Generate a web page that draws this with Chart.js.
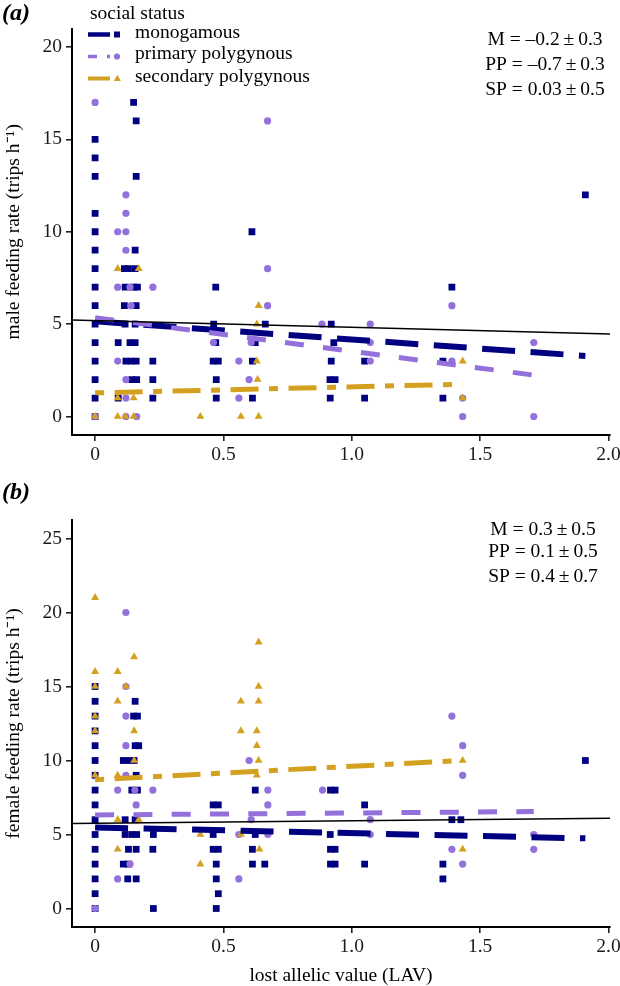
<!DOCTYPE html>
<html><head><meta charset="utf-8">
<script src="https://cdn.jsdelivr.net/npm/chart.js@4.4.1/dist/chart.umd.min.js"></script>
<style>
html,body{margin:0;padding:0;background:#fff;}
#wrap{position:relative;width:620px;height:986px;overflow:hidden;}
#ca{position:absolute;left:0;top:0;}
#cb{position:absolute;left:0;top:470px;}
</style></head><body>
<div id="wrap">
<canvas id="ca" width="620" height="470"></canvas>
<canvas id="cb" width="620" height="516"></canvas>
</div>
<script>
const FONT = '"Liberation Serif", "Times New Roman", serif';
const NAVY = '#000080', PURPLE = '#9370DB', GOLD = '#D4A020';

// axes
const xTicks = [0, 0.5, 1.0, 1.5, 2.0];
const xTickLabels = ['0', '0.5', '1.0', '1.5', '2.0'];
const yTicksMale = [0, 5, 10, 15, 20];
const yTicksFemale = [0, 5, 10, 15, 20, 25];
const groupNames = ['monogamous', 'primary polygynous', 'secondary polygynous'];

// (a) male feeding rate: [LAV, trips/h]
const maleMono = [[0,0],[0,1],[0,2],[0,3],[0,4],[0,5],[0,6],[0,7],[0,8],[0,9],[0,10],[0,11],[0,13],[0,14],[0,15],
  [0.09,4],[0.09,1],[0.114,8],[0.114,6],[0.117,7],[0.117,5],[0.12,3],[0.13,8],[0.136,4],[0.14,3],[0.143,2],[0.15,7],[0.15,17],
  [0.156,9],[0.156,8],[0.156,5],[0.156,4],[0.16,3],[0.16,6],[0.16,13],[0.16,16],[0.162,2],[0.165,7],
  [0.225,3],[0.225,2],[0.225,1],[0.462,5],[0.47,7],[0.47,4],[0.46,3],[0.48,3],[0.472,2],[0.472,1],
  [0.611,10],[0.613,3],[0.613,1],[0.624,4],[0.663,5],[0.92,5],[0.92,3],[0.93,4],[0.915,2],[0.935,2],[0.916,1],
  [1.05,3],[1.05,1],[1.355,3],[1.355,1],[1.39,7],[1.91,12]];
const malePP = [[0,17],[0,0],[0.088,10],[0.088,7],[0.088,3],[0.12,12],[0.12,11],[0.12,10],[0.12,9],[0.12,2],[0.12,1],[0.12,0],
  [0.136,7],[0.14,6],[0.162,0],[0.225,7],[0.461,4],[0.56,3],[0.56,1],[0.6,2],[0.608,4],[0.672,16],[0.672,8],[0.672,6],
  [0.884,5],[1.072,5],[1.072,4],[1.072,3],[1.39,6],[1.39,3],[1.432,1],[1.432,0],[1.709,4],[1.709,0]];
const maleSP = [[0,0],[0.088,8],[0.088,1],[0.088,0],[0.117,0],[0.15,1],[0.15,0],[0.17,8],[0.41,0],[0.568,0],
  [0.637,6],[0.637,0],[0.63,5],[0.63,3],[0.633,2],[1.432,3],[1.432,1]];
// fitted lines (end points)
const maleFitAll = [[-0.09,5.22],[2.006,4.47]];
const maleFitMono = [[0,5.15],[1.91,3.28]];
const maleFitPP = [[0,5.35],[1.709,2.24]];
const maleFitSP = [[0,1.28],[1.432,1.75]];
const maleStats = ['M = \u20130.2\u2009\u00b1\u20090.3', 'PP = \u20130.7\u2009\u00b1\u20090.3', 'SP = 0.03\u2009\u00b1\u20090.5'];

// (b) female feeding rate
const femaleMono = [[0,0],[0,1],[0,2],[0,3],[0,4],[0,5],[0,6],[0,7],[0,8],[0,9],[0,10],[0,11],[0,12],[0,13],[0,14],[0,15],
  [0.156,14],[0.15,13],[0.165,13],[0.156,11],[0.17,11],[0.11,10],[0.13,10],[0.152,10],[0.16,9],[0.143,8],[0.165,8],
  [0.117,6],[0.156,6],[0.117,5],[0.143,5],[0.162,5],[0.227,5],[0.13,4],[0.16,4],[0.225,4],[0.11,3],[0.13,3],[0.127,2],[0.16,2],[0.227,0],
  [0.624,8],[0.917,8],[0.935,8],[0.46,7],[0.48,7],[1.05,7],[1.39,6],[1.425,6],[0.46,5],[0.624,5],[0.916,5],
  [0.46,4],[0.48,4],[0.613,4],[0.917,4],[0.935,4],[0.472,3],[0.613,3],[0.661,3],[0.917,3],[0.935,3],[1.05,3],[1.355,3],
  [0.472,2],[1.355,2],[0.48,1],[0.472,0],[1.91,10]];
const femalePP = [[0,0],[0.12,20],[0.12,15],[0.12,13],[0.12,11],[0.12,9],[0.088,8],[0.155,8],[0.16,7],[0.088,2],[0.136,3],[0.225,8],
  [0.56,5],[0.56,2],[0.6,10],[0.608,6],[0.673,8],[0.673,7],[0.673,5],[0.886,8],[1.072,6],[1.072,5],[1.39,13],[1.39,4],
  [1.432,11],[1.432,9],[1.432,3],[1.709,5],[1.709,4]];
const femaleSP = [[0,21],[0,16],[0,15],[0,13],[0,12],[0,9],[0.088,16],[0.088,14],[0.088,9],[0.088,6],[0.088,4],[0.12,15],
  [0.152,17],[0.152,12],[0.152,10],[0.17,6],[0.41,5],[0.41,3],[0.568,14],[0.568,12],[0.568,5],[0.637,18],[0.637,15],[0.637,14],
  [0.637,10],[0.63,12],[0.63,11],[0.63,9],[0.64,4],[1.432,10],[1.432,4]];
const femaleFitAll = [[-0.09,5.75],[2.006,6.09]];
const femaleFitMono = [[0,5.48],[1.91,4.74]];
const femaleFitPP = [[0,6.32],[1.709,6.55]];
const femaleFitSP = [[0,8.7],[1.432,10.0]];
const femaleStats = ['M = 0.3\u2009\u00b1\u20090.5', 'PP = 0.1\u2009\u00b1\u20090.5', 'SP = 0.4\u2009\u00b1\u20090.7'];

const X_MIN = -0.09, X_MAX = 2.006;

const toXY = a => a.map(p => ({x: p[0], y: p[1]}));
function pts(label, arr, style, color, r, order) {
  return {type: 'scatter', label, data: toXY(arr), pointStyle: style, pointRadius: r, pointHoverRadius: r,
    backgroundColor: color, borderColor: color, pointBorderWidth: 0, showLine: false, order};
}
function fit(label, arr, color, w, dash, order) {
  return {type: 'line', label, data: toXY(arr), borderColor: color, borderWidth: w, borderDash: dash,
    borderCapStyle: 'butt', pointRadius: 0, pointHoverRadius: 0, fill: false, tension: 0, order};
}

function makeScales(yMin, yMax, yTicks, yTitle, showXTitle, xHeight) {
  return {
    x: {
      type: 'linear', position: 'bottom', min: X_MIN, max: X_MAX,
      afterBuildTicks: s => { s.ticks = xTicks.map(v => ({value: v})); },
      afterFit: s => { s.height = xHeight; s.paddingRight = 0; s.paddingLeft = 0; },
      ticks: {callback: (v, i) => xTickLabels[i], font: {family: FONT, size: 19.5}, color: '#1a1a1a', padding: 2, maxRotation: 0, autoSkip: false},
      grid: {drawOnChartArea: false, drawTicks: true, tickLength: 6, color: '#222', lineWidth: 1.6},
      border: {display: true, color: '#000', width: 2},
      title: {display: showXTitle, text: 'lost allelic value (LAV)', font: {family: FONT, size: 19.5, lineHeight: 1}, color: '#000', padding: 0}
    },
    y: {
      type: 'linear', position: 'left', min: yMin, max: yMax,
      afterBuildTicks: s => { s.ticks = yTicks.map(v => ({value: v})); },
      afterFit: s => { s.width = 70; },
      ticks: {callback: v => String(v), font: {family: FONT, size: 19.5}, color: '#1a1a1a', padding: 4, autoSkip: false},
      grid: {drawOnChartArea: false, drawTicks: true, tickLength: 6, color: '#222', lineWidth: 1.6},
      border: {display: true, color: '#000', width: 2},
      title: {display: true, text: yTitle, font: {family: FONT, size: 19.5, lineHeight: 1}, color: '#000', padding: {top: 2, bottom: 0}}
    }
  };
}

function textPlugin(stats, statX, statY, withLegend) {
  return {
    id: 'panelText',
    afterDraw(chart) {
      const ctx = chart.ctx;
      ctx.save();
      ctx.fillStyle = '#000';
      ctx.font = '19.5px ' + FONT;
      ctx.textAlign = 'center';
      ctx.textBaseline = 'middle';
      stats.forEach((t, i) => ctx.fillText(t, statX, statY[i]));
      if (withLegend) {
        ctx.textAlign = 'left';
        ctx.textBaseline = 'alphabetic';
        ctx.fillText('social status', 90, 18.5);
        const base = [37.5, 59.2, 81.5];
        groupNames.forEach((n, i) => ctx.fillText(n, 135, base[i]));
        const kc = [34.5, 56.5, 78.5];
        ctx.lineCap = 'butt';
        ctx.strokeStyle = NAVY; ctx.lineWidth = 4.5; ctx.setLineDash([]);
        ctx.beginPath(); ctx.moveTo(88, kc[0]); ctx.lineTo(110, kc[0]); ctx.stroke();
        ctx.strokeStyle = PURPLE; ctx.lineWidth = 3.5; ctx.setLineDash([9, 10]);
        ctx.beginPath(); ctx.moveTo(88, kc[1]); ctx.lineTo(110, kc[1]); ctx.stroke();
        ctx.strokeStyle = GOLD; ctx.lineWidth = 4; ctx.setLineDash([]);
        ctx.beginPath(); ctx.moveTo(88, kc[2]); ctx.lineTo(110, kc[2]); ctx.stroke();
        ctx.fillStyle = NAVY; ctx.beginPath(); ctx.rect(114, kc[0] - 3, 6, 6); ctx.fill();
        ctx.fillStyle = PURPLE; ctx.beginPath(); ctx.arc(117, kc[1], 3.1, 0, Math.PI * 2); ctx.fill();
        ctx.fillStyle = GOLD; ctx.beginPath();
        ctx.moveTo(117.3, kc[2] - 3.8); ctx.lineTo(120.8, kc[2] + 2.6); ctx.lineTo(113.8, kc[2] + 2.6); ctx.closePath(); ctx.fill();
      }
      ctx.restore();
    }
  };
}

function makeChart(id, cfg) {
  const datasets = [
    fit('all', cfg.fitAll, '#000', 1.5, [], 0),
    fit(groupNames[2] + ' fit', cfg.fitSP, GOLD, 5, [9, 10.5, 28, 10.5], 1),
    fit(groupNames[1] + ' fit', cfg.fitPP, PURPLE, 5, [19, 19.3], 2),
    fit(groupNames[0] + ' fit', cfg.fitMono, NAVY, 6, [33, 15.5], 3),
    pts(groupNames[2], cfg.sp, 'triangle', GOLD, 4.6, 4),
    pts(groupNames[1], cfg.pp, 'circle', PURPLE, 3.6, 5),
    pts(groupNames[0], cfg.mono, 'rect', NAVY, 4.8, 6)
  ];
  return new Chart(document.getElementById(id), {
    type: 'scatter',
    data: {datasets},
    options: {
      responsive: false, animation: false, events: [], devicePixelRatio: 1,
      layout: {padding: {left: 2, right: 10, top: 0, bottom: 0}},
      plugins: {
        legend: {display: false}, tooltip: {enabled: false},
        title: {display: true, text: cfg.panel, align: 'start', color: '#000',
          font: {family: FONT, size: 24, style: 'italic', lineHeight: 1}, padding: cfg.titlePad}
      },
      scales: makeScales(cfg.yMin, cfg.yMax, cfg.yTicks, cfg.yTitle, cfg.showXTitle, cfg.xHeight)
    },
    plugins: [textPlugin(cfg.stats, cfg.statX, cfg.statY, cfg.legend)]
  });
}

makeChart('ca', {
  panel: '(a)', titlePad: {top: 2, bottom: 2.5},
  mono: maleMono, pp: malePP, sp: maleSP,
  fitAll: maleFitAll, fitMono: maleFitMono, fitPP: maleFitPP, fitSP: maleFitSP,
  yMin: -1, yMax: 21, yTicks: yTicksMale, yTitle: 'male feeding rate (trips h\u207B\u00B9)',
  showXTitle: false, xHeight: 35,
  stats: maleStats, statX: 545, statY: [40, 65, 90], legend: true
});
makeChart('cb', {
  panel: '(b)', titlePad: {top: 11, bottom: 15},
  mono: femaleMono, pp: femalePP, sp: femaleSP,
  fitAll: femaleFitAll, fitMono: femaleFitMono, fitPP: femaleFitPP, fitSP: femaleFitSP,
  yMin: -1.25, yMax: 26.25, yTicks: yTicksFemale, yTitle: 'female feeding rate (trips h\u207B\u00B9)',
  showXTitle: true, xHeight: 59,
  stats: femaleStats, statX: 543, statY: [60, 82, 107], legend: false
});
</script>
</body></html>
